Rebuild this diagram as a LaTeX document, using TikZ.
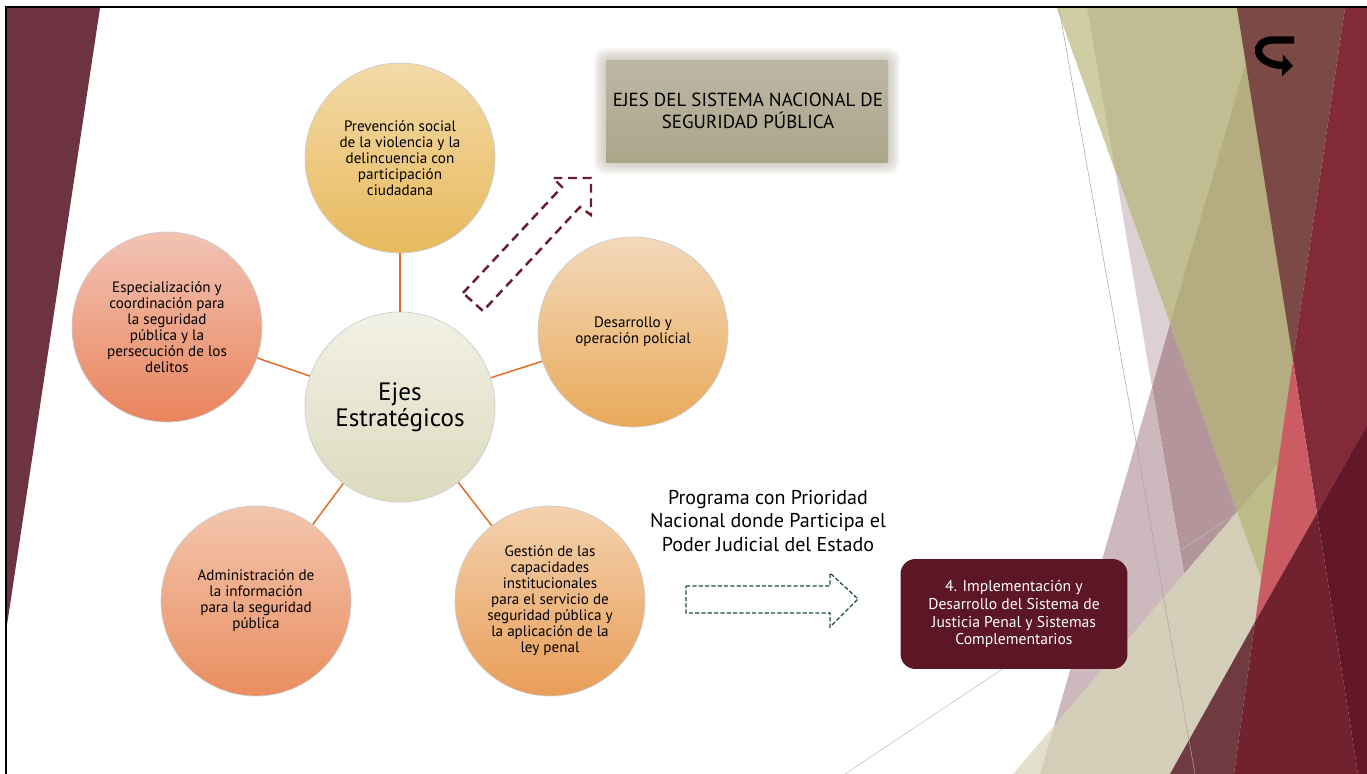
\documentclass[tikz,border=0pt]{standalone}
\usepackage{fontspec}
\setmainfont{PT Sans}
\usetikzlibrary{arrows.meta}
\definecolor{vino}{HTML}{6E3340}
\definecolor{khA}{HTML}{C1BD93}
\definecolor{khL}{HTML}{CFCDA2}
\definecolor{mvL}{HTML}{DDD0D4}
\definecolor{olv}{HTML}{B5AC82}
\definecolor{ylw}{HTML}{BDBB88}
\definecolor{mvD}{HTML}{B5959C}
\definecolor{mv}{HTML}{CDB8BE}
\definecolor{crW}{HTML}{E2E0CA}
\definecolor{cr}{HTML}{D4CEB8}
\definecolor{cafe}{HTML}{7B4A44}
\definecolor{granate}{HTML}{832A38}
\definecolor{rosa}{HTML}{CB5C64}
\definecolor{fA}{HTML}{6F3A40}
\definecolor{fB}{HTML}{72212F}
\definecolor{fC}{HTML}{63182A}
\definecolor{caja}{HTML}{5C1625}
\definecolor{flechaV}{HTML}{6B1D2D}
\definecolor{flechaG}{HTML}{1F4D36}
\definecolor{naranja}{HTML}{E36C24}
\definecolor{titA}{HTML}{BDB6A5}
\definecolor{titB}{HTML}{ABA68A}
\newcommand{\tam}[2]{\fontsize{#1}{#2}\selectfont}

\begin{document}
\begin{tikzpicture}[x=0.02cm,y=-0.02cm,
    eje/.style={circle,draw=black!20,minimum size=3.8cm,inner sep=0pt,align=center,font=\tam{8.6}{9.1}},
    enlace/.style={naranja,line width=0.85pt}]
\useasboundingbox (0,0) rectangle (1367,774);
\fill[white] (0,0) rectangle (1367,774);
\fill[vino] (7,8) -- (100,8) -- (7,625) -- cycle;
\fill[khA] (1057,8) -- (1343,8) -- (1262,581) -- cycle;
\fill[khL] (1057,8) -- (1087,8) -- (1115,169) -- cycle;
\fill[mvL] (1115,169) -- (1170,324) -- (1152,387) -- cycle;
\fill[olv] (1246,62) -- (1293,360) -- (1278,464) -- (1237,512) -- (1170,324) -- cycle;
\fill[ylw] (1237,512) -- (1278,464) -- (1262,581) -- cycle;
\fill[mvD] (1152,387) -- (1170,324) -- (1237,512) -- (1184,574) -- cycle;
\fill[mv] (1152,387) -- (1184,574) -- (1054,726) -- cycle;
\fill[crW] (1054,726) -- (1040,774) -- (1013,774) -- cycle;
\fill[cr] (1040,774) -- (1054,726) -- (1184,574) -- (1237,512) -- (1262,581) -- (1255,622) -- (1170,774) -- cycle;
\fill[cafe] (1237,8) -- (1345,8) -- (1293,360) -- cycle;
\fill[granate] (1345,8) -- (1367,8) -- (1367,425) -- (1317,513) -- (1293,360) -- cycle;
\fill[rosa] (1293,360) -- (1317,513) -- (1255,622) -- cycle;
\fill[fA] (1170,774) -- (1255,622) -- (1234,774) -- cycle;
\fill[fB] (1255,622) -- (1317,513) -- (1358,774) -- (1234,774) -- cycle;
\fill[fC] (1317,513) -- (1367,425) -- (1367,774) -- (1358,774) -- cycle;
\draw[black!35,line width=0.3pt] (1059,8) -- (1195,774);
\draw[black!25,line width=0.3pt] (845,774) -- (1240,511);
\draw[black,line width=1.2pt] (6,774) -- (6,7) -- (1367,7);
\draw[line width=4.2pt,-{Triangle[length=6pt,width=12pt]}] (1294,40) -- (1272,40) .. controls (1252,41) and (1253,64) .. (1293,66);

\foreach \g in {1,...,12}
  \fill[titA,opacity=0.07,rounded corners=6pt] (606-\g,60-\g) rectangle (888+\g,162+\g);
\fill[top color=titA,bottom color=titB] (606,60) rectangle (888,162);
\node (titulo) at (748,111) [align=center,font=\tam{10.8}{12.5}] {EJES DEL SISTEMA NACIONAL DE\\SEGURIDAD PÚBLICA};

\draw[flechaV,line width=1.4pt,dash pattern=on 5pt off 3.2pt] (463,293) -- (562,187) -- (553,178) -- (591,178) -- (591,215) -- (580,207) -- (483,311) -- cycle;
\draw[flechaG,line width=0.7pt,dash pattern=on 2.4pt off 1.2pt] (686,586) -- (830,586) -- (830,573) -- (858,599) -- (830,627) -- (830,613) -- (686,613) -- cycle;

\node[eje,top color={rgb,255:red,243;green,218;blue,168},bottom color={rgb,255:red,232;green,185;blue,92}] (prev) at (400,158) {Prevención social\\de la violencia y la\\delincuencia con\\participación\\ciudadana};
\node[eje,top color={rgb,255:red,243;green,217;blue,186},bottom color={rgb,255:red,233;green,169;blue,90}] (des) at (633,332) {Desarrollo y\\operación policial};
\node[eje,top color={rgb,255:red,242;green,195;blue,180},bottom color={rgb,255:red,233;green,132;blue,92}] (esp) at (167,327) {Especialización y\\coordinación para\\la seguridad\\pública y la\\persecución de los\\delitos};
\node[eje,top color={rgb,255:red,243;green,197;blue,174},bottom color={rgb,255:red,234;green,142;blue,96}] (adm) at (256,601) {Administración de\\la información\\para la seguridad\\pública};
\node[eje,top color={rgb,255:red,243;green,210;blue,174},bottom color={rgb,255:red,233;green,157;blue,88}] (ges) at (550,601) {Gestión de las\\capacidades\\institucionales\\para el servicio de\\seguridad pública y\\la aplicación de la\\ley penal};
\node[eje,font=\tam{14.3}{14.8},top color={rgb,255:red,242;green,241;blue,230},bottom color={rgb,255:red,220;green,219;blue,190}] (ejes) at (400,407) {Ejes\\Estratégicos};
\draw[enlace] (ejes) -- (prev);
\draw[enlace] (ejes) -- (des);
\draw[enlace] (ejes) -- (esp);
\draw[enlace] (ejes) -- (adm);
\draw[enlace] (ejes) -- (ges);

\node (programa) at (768,521) [align=center,font=\tam{11.4}{13.4}] {Programa con Prioridad\\Nacional donde Participa el\\Poder Judicial del Estado};
\node (sjp) at (1014,614) [fill=caja,rounded corners=8.5pt,minimum width=4.54cm,minimum height=2.2cm,text=white,align=center,font=\tam{8.9}{10.2}] {4. Implementación y\\Desarrollo del Sistema de\\Justicia Penal y Sistemas\\Complementarios};
\end{tikzpicture}
\end{document}
